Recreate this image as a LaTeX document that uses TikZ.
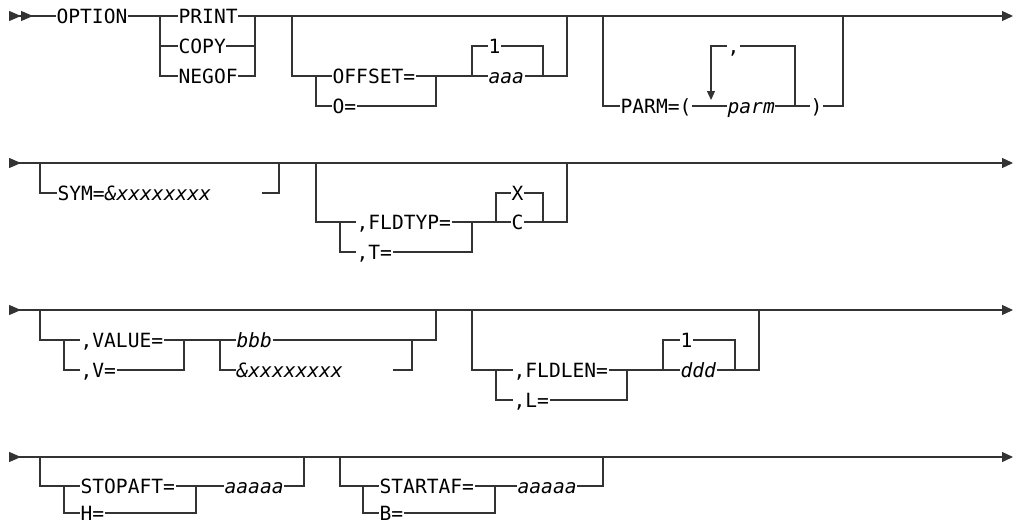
\documentclass[tikz,border=0pt]{standalone}
\usepackage{fontspec}
\setmonofont{DejaVu Sans Mono}
\usepackage{tikz}
\usetikzlibrary{arrows.meta}
\newcommand{\railfont}{\ttfamily\fontsize{19.6pt}{22pt}\selectfont}

\begin{document}
\begin{tikzpicture}[
  x=1pt, y=-1pt,
  line width=1.2pt, black!80,
  kw/.style={font=\railfont, text=black, inner sep=0pt, text height=14pt, text depth=0pt, anchor=west},
  var/.style={kw, font=\railfont\itshape},
  gogo/.style={{Triangle[reversed, length=12pt, width=10pt] Triangle[reversed, length=12pt, width=10pt]}-},
  fin/.style={-{Triangle[length=11pt, width=10pt]}},
  rowline/.style={{Triangle[reversed, length=12pt, width=10pt]}-{Triangle[length=11pt, width=10pt]}},
  rep/.style={-{Triangle[length=9pt, width=8pt]}},
]
\useasboundingbox (0,0) rectangle (1016,522);

\coordinate (s1) at (9,16);
\node[kw] (option) at (56,16) {OPTION};
\node[kw] (print) at (178,16) {PRINT};
\node[kw] (copy) at (178,46) {COPY};
\node[kw] (negof) at (178,76) {NEGOF};
\coordinate (b1) at (160,16);
\coordinate (j1) at (255,16);
\coordinate (b2) at (292,16);
\coordinate (b2a) at (316,76);
\node[kw] (offset) at (332,76) {OFFSET=};
\node[kw] (oeq) at (332,106) {O=};
\coordinate (j2a) at (436,76);
\coordinate (b2b) at (472,76);
\node[kw] (one1) at (488,46) {1};
\node[var] (aaa) at (488,76) {aaa};
\coordinate (j2b) at (543,76);
\coordinate (j2) at (567,16);
\coordinate (b3) at (603,16);
\node[kw] (parm) at (620,106) {PARM=(};
\node[var] (parmv) at (727,106) {parm};
\node[kw] (rpar) at (810,106) {)};
\node[kw] (comma1) at (727,46) {,};
\coordinate (lp) at (711,46);
\coordinate (lpt) at (711,100);
\coordinate (lr) at (795,106);
\coordinate (j3) at (843,16);
\coordinate (e1) at (1013,16);

\draw[gogo] (s1) -- (option.west);
\draw (option.east) -- (print.west);
\draw (b1) |- (copy.west);
\draw (b1) |- (negof.west);
\draw (print.east) -- (j1);
\draw (copy.east) -| (j1);
\draw (negof.east) -| (j1);
\draw[fin] (j1) -- (e1);
\draw (b2) |- (b2a) -- (offset.west);
\draw (b2a) |- (oeq.west);
\draw (offset.east) -- (aaa.west);
\draw (oeq.east) -| (j2a);
\draw (b2b) |- (one1.west);
\draw (aaa.east) -| (j2);
\draw (one1.east) -| (j2b);
\draw (b3) |- (parm.west);
\draw (parm.east) -- (parmv.west);
\draw[rep] (comma1.west) -- (lp) -- (lpt);
\draw (comma1.east) -| (lr);
\draw (parmv.east) -- (rpar.west);
\draw (rpar.east) -| (j3);

\coordinate (s2) at (9,163);
\coordinate (b4) at (40,163);
\node[kw] (sym) at (57,193) {SYM=\textit{\&xxxxxxxx}\hspace*{50pt}};
\coordinate (j4) at (279,163);
\coordinate (b5) at (316,163);
\coordinate (b5a) at (340,222);
\node[kw] (fldtyp) at (356,222) {,FLDTYP=};
\node[kw] (teq) at (356,252) {,T=};
\coordinate (j5a) at (472,222);
\coordinate (b5b) at (496,222);
\node[kw] (xval) at (511,193) {X};
\node[kw] (cval) at (511,222) {C};
\coordinate (j5b) at (543,222);
\coordinate (j5) at (567,163);
\coordinate (e2) at (1013,163);

\draw[rowline] (s2) -- (e2);
\draw (b4) |- (sym.west);
\draw (sym.east) -| (j4);
\draw (b5) |- (b5a) -- (fldtyp.west);
\draw (b5a) |- (teq.west);
\draw (fldtyp.east) -- (cval.west);
\draw (teq.east) -| (j5a);
\draw (b5b) |- (xval.west);
\draw (cval.east) -| (j5);
\draw (xval.east) -| (j5b);

\coordinate (s3) at (9,310);
\coordinate (b6) at (40,310);
\coordinate (b6a) at (64,340);
\node[kw] (value) at (80,340) {,VALUE=};
\node[kw] (veq) at (80,370) {,V=};
\coordinate (j6a) at (184,340);
\coordinate (b6b) at (220,340);
\node[var] (bbb) at (236,340) {bbb};
\node[var] (symv) at (236,370) {\&xxxxxxxx\hspace*{50pt}};
\coordinate (j6b) at (412,340);
\coordinate (j6) at (436,310);
\coordinate (b7) at (472,310);
\coordinate (b7a) at (496,370);
\node[kw] (fldlen) at (513,370) {,FLDLEN=};
\node[kw] (leq) at (513,400) {,L=};
\coordinate (j7a) at (627,370);
\coordinate (b7b) at (663,370);
\node[kw] (one2) at (680,340) {1};
\node[var] (ddd) at (680,370) {ddd};
\coordinate (j7b) at (735,370);
\coordinate (j7) at (759,310);
\coordinate (e3) at (1013,310);

\draw[rowline] (s3) -- (e3);
\draw (b6) |- (b6a) -- (value.west);
\draw (b6a) |- (veq.west);
\draw (value.east) -- (bbb.west);
\draw (veq.east) -| (j6a);
\draw (b6b) |- (symv.west);
\draw (bbb.east) -| (j6);
\draw (symv.east) -| (j6b);
\draw (b7) |- (b7a) -- (fldlen.west);
\draw (b7a) |- (leq.west);
\draw (fldlen.east) -- (ddd.west);
\draw (leq.east) -| (j7a);
\draw (b7b) |- (one2.west);
\draw (ddd.east) -| (j7);
\draw (one2.east) -| (j7b);

\coordinate (s4) at (9,457);
\coordinate (b8) at (40,457);
\coordinate (b8a) at (64,486);
\node[kw] (stopaft) at (80,486) {STOPAFT=};
\node[kw] (heq) at (80,513) {H=};
\coordinate (j8a) at (196,486);
\node[var] (aaaaa1) at (224,486) {aaaaa};
\coordinate (j8) at (304,457);
\coordinate (b9) at (340,457);
\coordinate (b9a) at (363,486);
\node[kw] (startaf) at (379,486) {STARTAF=};
\node[kw] (beq) at (379,513) {B=};
\coordinate (j9a) at (495,486);
\node[var] (aaaaa2) at (517,486) {aaaaa};
\coordinate (j9) at (603,457);
\coordinate (e4) at (1013,457);

\draw[rowline] (s4) -- (e4);
\draw (b8) |- (b8a) -- (stopaft.west);
\draw (b8a) |- (heq.west);
\draw (stopaft.east) -- (aaaaa1.west);
\draw (heq.east) -| (j8a);
\draw (aaaaa1.east) -| (j8);
\draw (b9) |- (b9a) -- (startaf.west);
\draw (b9a) |- (beq.west);
\draw (startaf.east) -- (aaaaa2.west);
\draw (beq.east) -| (j9a);
\draw (aaaaa2.east) -| (j9);

\end{tikzpicture}
\end{document}
